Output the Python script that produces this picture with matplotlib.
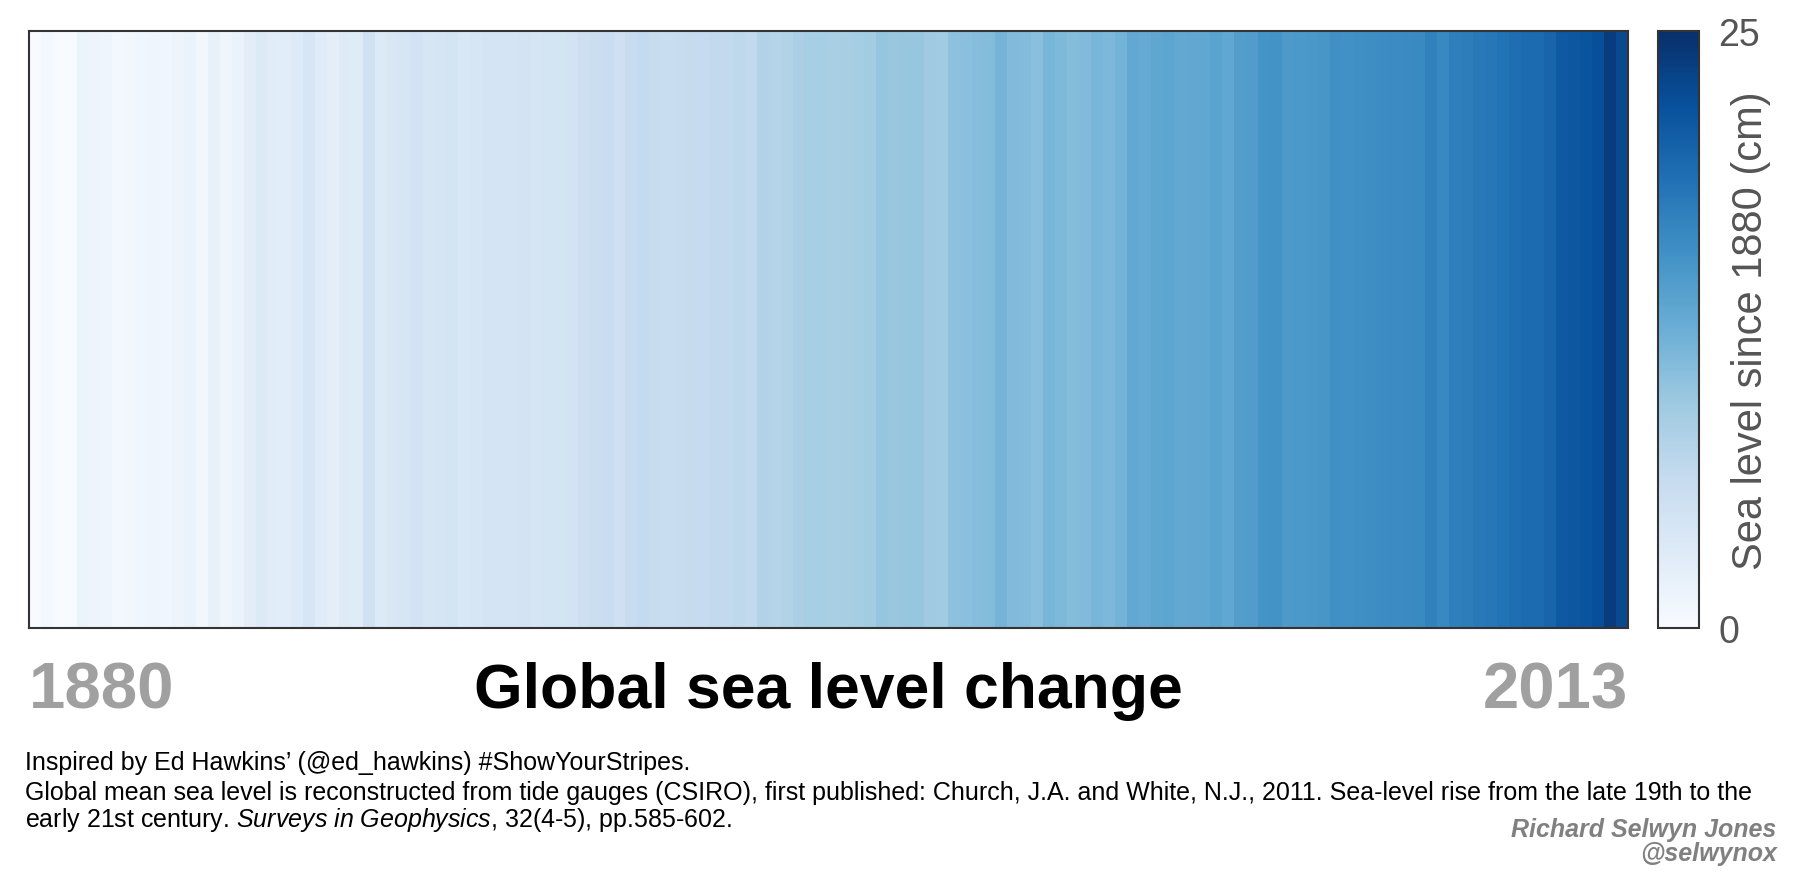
import numpy as np
import matplotlib
matplotlib.use("Agg")
import matplotlib.pyplot as plt

plt.rcParams['font.family'] = ['Liberation Sans', 'DejaVu Sans']
plt.rcParams['mathtext.fontset'] = 'custom'
plt.rcParams['mathtext.rm'] = 'Liberation Sans'
plt.rcParams['mathtext.it'] = 'Liberation Sans:italic'

years = np.arange(1880, 2014)
# sea level relative to 1880 (cm)
sea_level = [
    0.00, 0.56, -1.12, -0.59, 1.50, 1.35, 1.11, 0.55, 0.76, 0.92,
    1.12, 0.95, 1.27, 1.74, 0.77, 1.95, 1.19, 1.71, 2.65, 3.40,
    2.86, 2.82, 3.28, 4.08, 3.05, 2.50, 3.18, 3.04, 5.01, 3.33,
    3.90, 4.11, 4.65, 4.06, 4.33, 4.56, 3.97, 4.14, 4.45, 4.44,
    4.40, 4.61, 4.26, 4.53, 4.57, 4.61, 5.45, 5.73, 5.82, 5.21,
    5.99, 6.40, 6.10, 5.89, 6.03, 6.17, 6.30, 6.60, 6.60, 6.90,
    6.60, 7.90, 7.56, 7.85, 8.32, 8.72, 8.76, 8.53, 8.60, 8.80,
    9.00, 9.90, 9.70, 9.80, 9.80, 9.30, 9.20, 10.40, 10.60, 10.80,
    11.00, 11.90, 11.20, 11.10, 10.60, 11.80, 11.30, 11.00, 11.20, 11.80,
    11.40, 12.00, 13.10, 12.90, 13.40, 13.50, 13.10, 13.20, 13.30, 13.80,
    13.30, 14.40, 14.50, 15.40, 15.50, 14.80, 14.90, 15.00, 15.20, 15.80,
    15.70, 15.90, 16.00, 16.10, 16.20, 16.30, 16.40, 17.20, 16.60, 17.40,
    17.60, 18.00, 18.20, 18.60, 19.00, 19.40, 19.30, 19.90, 21.00, 21.20,
    21.50, 22.00, 23.80, 22.60,
]
cbar_ticks = [0, 25]

fig = plt.figure(figsize=(18, 8.78), dpi=100)
ax = fig.add_axes([0.016, 0.2836, 0.8884, 0.68])
cax = fig.add_axes([0.9211, 0.2836, 0.0228, 0.68])

edges = np.append(years, years[-1] + 1)
mesh = ax.pcolormesh(edges, [0, 1], np.array(sea_level)[np.newaxis, :],
                     cmap='Blues', vmin=0, vmax=25)
ax.set_xlim(edges[0], edges[-1])
ax.set_ylim(0, 1)
ax.set_xticks([])
ax.set_yticks([])
for s in ax.spines.values():
    s.set_color('#333333')
    s.set_linewidth(1.5)

cb = fig.colorbar(mesh, cax=cax, ticks=cbar_ticks)
cb.outline.set_edgecolor('#333333')
cb.outline.set_linewidth(1.5)
cax.tick_params(length=0, pad=14, labelsize=27, labelcolor='#555555')
fig.text(0.9728, 0.6236, 'Sea level since 1880 (cm)', rotation=90, ha='center',
         va='center', fontsize=30, color='#555555')

ax.text(0, -0.055, str(years[0]), transform=ax.transAxes, ha='left', va='top',
        fontsize=47, fontweight='bold', color='#a0a0a0')
ax.text(1, -0.055, str(years[-1]), transform=ax.transAxes, ha='right', va='top',
        fontsize=47, fontweight='bold', color='#a0a0a0')
ax.text(0.5, -0.055, 'Global sea level change', transform=ax.transAxes,
        ha='center', va='top', fontsize=45, fontweight='bold', color='black')

fig.text(0.014, 0.131, 'Inspired by Ed Hawkins\u2019 (@ed_hawkins) #ShowYourStripes.',
         fontsize=18, va='center')
fig.text(0.014, 0.097, 'Global mean sea level is reconstructed from tide gauges (CSIRO), '
         'first published: Church, J.A. and White, N.J., 2011. Sea-level rise from '
         'the late 19th to the', fontsize=18, va='center')
fig.text(0.014, 0.066, 'early 21st century. $\\it{Surveys\\ in\\ Geophysics}$, '
         '32(4-5), pp.585-602.', fontsize=18, va='center')
fig.text(0.987, 0.041, 'Richard Selwyn Jones\n@selwynox', ha='right', va='center',
         fontsize=18, fontweight='bold', style='italic', color='#808080',
         linespacing=1.05)

fig.savefig('out.png', dpi=100)
